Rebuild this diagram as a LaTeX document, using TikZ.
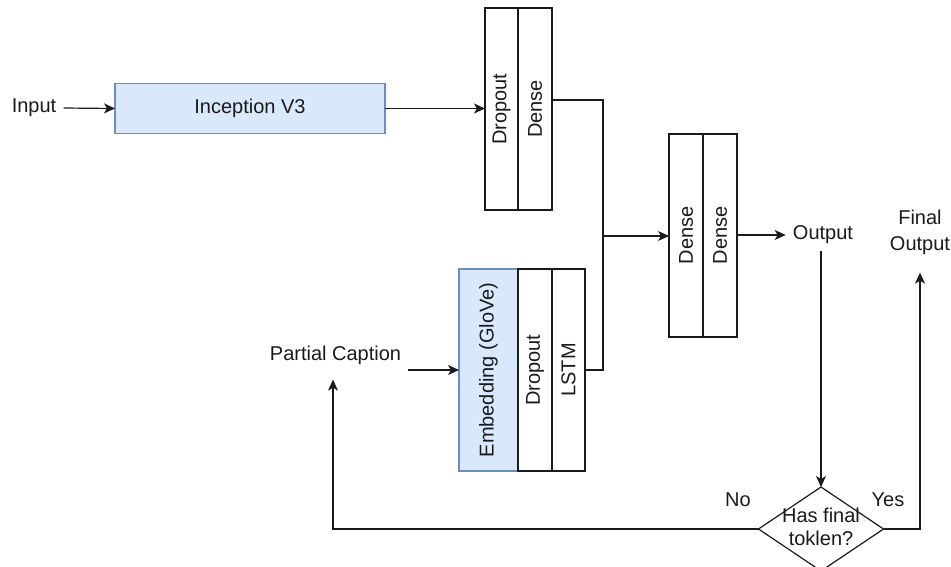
\documentclass[tikz,border=0pt]{standalone}
\usepackage{fontspec}
\setmainfont{Liberation Sans}
\usepackage{graphicx}
\usetikzlibrary{arrows.meta,shapes.geometric}
\definecolor{blueFill}{HTML}{DAE8FC}
\definecolor{blueLine}{HTML}{6C8EBF}
\definecolor{ink}{HTML}{1A1A1A}
\begin{document}
\begin{tikzpicture}[x=1pt,y=-1pt,
  font=\fontsize{20}{24}\selectfont, text=ink,
  line width=1.2pt, draw=ink,
  arr/.style={draw=ink, -{Stealth[length=11pt,width=10pt,inset=3pt]}},
  link/.style={draw=ink},
  cell/.style={draw=ink, minimum height=202, inner sep=0, outer sep=0},
  bluecell/.style={cell, draw=blueLine, fill=blueFill},
  plain/.style={inner sep=6.7pt}]

\useasboundingbox (0,0) rectangle (951,566);

% image branch
\node[plain] (inp) at (34,108) {Input};
\node[draw=blueLine, fill=blueFill, minimum width=270, minimum height=50,
      inner sep=0, outer sep=0] (incep) at (250,108.5) {Inception V3};
\node[cell, minimum width=33] (dropA) at (501.5,109) {\rotatebox{90}{Dropout}};
\node[cell, minimum width=34] (denseA) at (535,109) {\rotatebox{90}{Dense}};

% caption branch
\node[plain] (pc) at (335.5,355) {Partial Caption};
\node[bluecell, minimum width=59] (emb) at (488.5,370) {\rotatebox{90}{Embedding (GloVe)}};
\node[cell, minimum width=34] (dropB) at (535,370) {\rotatebox{90}{Dropout}};
\node[cell, minimum width=33] (lstm) at (568.5,370) {\rotatebox{90}{LSTM}};

% merged head
\node[cell, minimum width=34, minimum height=203] (dense1) at (686,235.5) {\rotatebox{90}{Dense}};
\node[cell, minimum width=34, minimum height=203] (dense2) at (720,235.5) {\rotatebox{90}{Dense}};
\node[plain] (out) at (823,235) {Output};
\node[plain, align=center, font=\fontsize{20}{26}\selectfont] (fin) at (920,232) {Final\\Output};

% decision
\node[diamond, draw=ink, minimum width=125, minimum height=84, inner sep=0, outer sep=0] (dec) at (821,529) {};
\node[align=center, inner sep=0, font=\fontsize{20}{23}\selectfont] (dectxt) at (821,527) {Has final\\toklen?};
\node (no) at (738,500) {No};
\node (yes) at (888,500) {Yes};

\coordinate (jn) at (603,236);

% connectors
\draw[arr] (inp.east) -- (incep.west);
\draw[arr] (incep.east) -- (dropA.west |- incep.east);
\draw[link] ([yshift=9pt]denseA.east) -| (jn);
\draw[link] (lstm.east) -| (jn);
\draw[arr] (jn) -- (dense1.west |- jn);
\draw[arr] (pc.east |- emb.west) -- (emb.west);
\draw[arr] (dense2.east |- out.west) -- (out.west);
\draw[arr] (out.south -| dec.north) -- (dec.north);
\draw[arr, shorten >=11pt] (dec.east) -| (fin.south);
\draw[arr, shorten >=8pt] (dec.west) -| ([xshift=-2.5pt]pc.south);
\end{tikzpicture}
\end{document}
